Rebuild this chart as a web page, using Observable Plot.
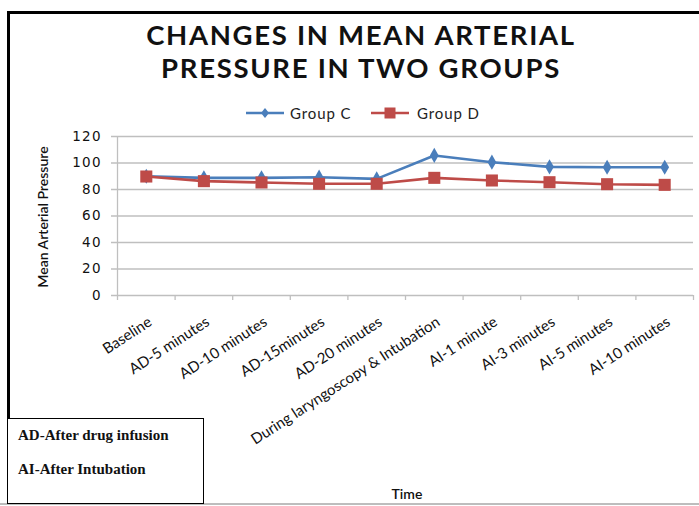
<!DOCTYPE html>
<html>
<head>
<meta charset="utf-8">
<script src="https://cdn.jsdelivr.net/npm/d3@7"></script>
<script src="https://cdn.jsdelivr.net/npm/@observablehq/plot@0.6"></script>
<style>
  html, body { margin: 0; padding: 0; background: #fff; }
  #wrap { position: relative; width: 699px; height: 506px; overflow: hidden; background: #fff; font-family: Lato, "Open Sans", sans-serif; }
  #wrap > svg.mainplot { position: absolute; left: 0; top: 0; }
  .abs { position: absolute; }
</style>
</head>
<body>
<div id="wrap"></div>
<script>
// ---- data ----
const categories = ["Baseline", "AD-5 minutes", "AD-10 minutes", "AD-15minutes", "AD-20 minutes",
  "During laryngoscopy & Intubation", "AI-1 minute", "AI-3 minutes", "AI-5 minutes", "AI-10 minutes"];
const groupC = [90, 88.8, 88.8, 89.3, 88, 105.7, 100.6, 97.1, 96.8, 96.8];
const groupD = [89.8, 86.3, 85.3, 84.3, 84.3, 88.8, 86.8, 85.5, 84, 83.5];
const seriesNames = ["Group C", "Group D"];
const seriesColors = ["#4a7ebb", "#be4b48"];
const yTicks = [0, 20, 40, 60, 80, 100, 120];
const titleLines = ["CHANGES IN MEAN ARTERIAL", "PRESSURE IN TWO GROUPS"];
const yLabel = "Mean Arterial Pressure";
const xLabel = "Time";
const notes = ["AD-After drug infusion", "AI-After Intubation"];

// ---- build rows ----
const rows = [];
[groupC, groupD].forEach((vals, s) => vals.forEach((v, i) => rows.push({i, cat: categories[i], group: seriesNames[s], value: v})));
const C = rows.filter(d => d.group === seriesNames[0]);
const D = rows.filter(d => d.group === seriesNames[1]);
const bounds = d3.range(categories.length + 1);

const grid = "#bfbfbf";
const plot = Plot.plot({
  width: 699, height: 506,
  marginLeft: 117, marginRight: 6, marginTop: 136, marginBottom: 211,
  x: {domain: [0, categories.length], axis: null},
  y: {domain: [0, 120], axis: null},
  style: {fontFamily: "Lato, 'Open Sans', sans-serif", background: "transparent", overflow: "visible"},
  marks: [
    Plot.ruleY(yTicks, {y: d => d, stroke: grid, strokeWidth: 1.3, insetLeft: -6}),
    Plot.ruleX([0], {x: d => d, y1: 0, y2: 120, stroke: grid, strokeWidth: 1.3}),
    Plot.ruleX(bounds, {x: d => d, y1: 0, y2: 0, insetBottom: -5, stroke: grid, strokeWidth: 1.3}),
    Plot.text(yTicks, {x: 0, y: d => d, text: d => String(d), textAnchor: "end", dx: -15.8, fontSize: 13.5, fontFamily: "'DejaVu Sans', sans-serif", fill: "#111"}),
    Plot.line(C, {x: d => d.i + 0.5, y: "value", stroke: seriesColors[0], strokeWidth: 2.6}),
    Plot.line(D, {x: d => d.i + 0.5, y: "value", stroke: seriesColors[1], strokeWidth: 2.6}),
    Plot.dot(C, {x: d => d.i + 0.5, y: "value", symbol: "diamond", r: 4.6, fill: seriesColors[0]}),
    Plot.dot(D, {x: d => d.i + 0.5, y: "value", symbol: "square", r: 6.8, fill: seriesColors[1]}),
    Plot.text(categories, {x: (d, i) => i + 0.5, y: 0, text: d => d, rotate: -33, textAnchor: "end", dx: 4, dy: 25, fontSize: 15, fill: "#111"})
  ]
});
// slightly widen the y tick labels (first text mark) like the reference's wide digits
d3.select(plot).selectAll('g[aria-label="text"]').filter((d, i) => i === 0)
  .selectAll("text").style("letter-spacing", "1.2px");

const wrap = document.getElementById("wrap");
plot.classList.add("mainplot");
wrap.appendChild(plot);

function add(html, style) {
  const el = document.createElement("div");
  el.className = "abs";
  el.innerHTML = html;
  Object.assign(el.style, style);
  wrap.appendChild(el);
  return el;
}
// frame
add("", {left: "7px", top: "11px", width: "700px", height: "491px", borderTop: "3px solid #000", borderLeft: "3px solid #000"});
add("", {left: "0px", top: "503px", width: "699px", height: "2px", background: "#bdbdbd"});
// title
add(titleLines.join("<br>"), {left: "20px", top: "18px", width: "682px", textAlign: "center", fontFamily: "Lato, sans-serif", fontWeight: "700", fontSize: "27.5px", lineHeight: "33px", color: "#111", letterSpacing: "1.7px"});
// legend
const legSvg = (i) => i === 0
  ? `<svg width="38" height="12" style="display:block"><line x1="0" x2="38" y1="6" y2="6" stroke="${seriesColors[0]}" stroke-width="2.6"/><path d="M19,1 L23,6 L19,11 L15,6 Z" fill="${seriesColors[0]}"/></svg>`
  : `<svg width="38" height="12" style="display:block"><line x1="0" x2="38" y1="6" y2="6" stroke="${seriesColors[1]}" stroke-width="2.6"/><rect x="13.5" y="0.5" width="11" height="11" fill="${seriesColors[1]}"/></svg>`;
add(legSvg(0), {left: "246px", top: "107px"});
add(seriesNames[0], {left: "290px", top: "104px", fontSize: "15px", letterSpacing: "0.9px", color: "#222", whiteSpace: "nowrap"});
add(legSvg(1), {left: "371px", top: "107px"});
add(seriesNames[1], {left: "417px", top: "104px", fontSize: "15px", letterSpacing: "0.9px", color: "#222", whiteSpace: "nowrap"});
// y label
add(yLabel, {left: "42px", top: "217px", transform: "translate(-50%,-50%) rotate(-90deg)", fontSize: "14px", fontWeight: "600", color: "#111", whiteSpace: "nowrap"});
// x label
add(xLabel, {left: "407px", top: "493px", transform: "translate(-50%,-50%)", fontSize: "14px", fontWeight: "600", color: "#111"});
// note box
add(`<div style="position:absolute;left:10px;top:8px">${notes[0]}</div><div style="position:absolute;left:10px;top:42px">${notes[1]}</div>`,
  {left: "7px", top: "418px", width: "195px", height: "84px", border: "1px solid #000", background: "#fff", fontFamily: "'Liberation Serif', 'Times New Roman', serif", fontWeight: "700", fontSize: "15px", color: "#111"});
</script>
</body>
</html>
